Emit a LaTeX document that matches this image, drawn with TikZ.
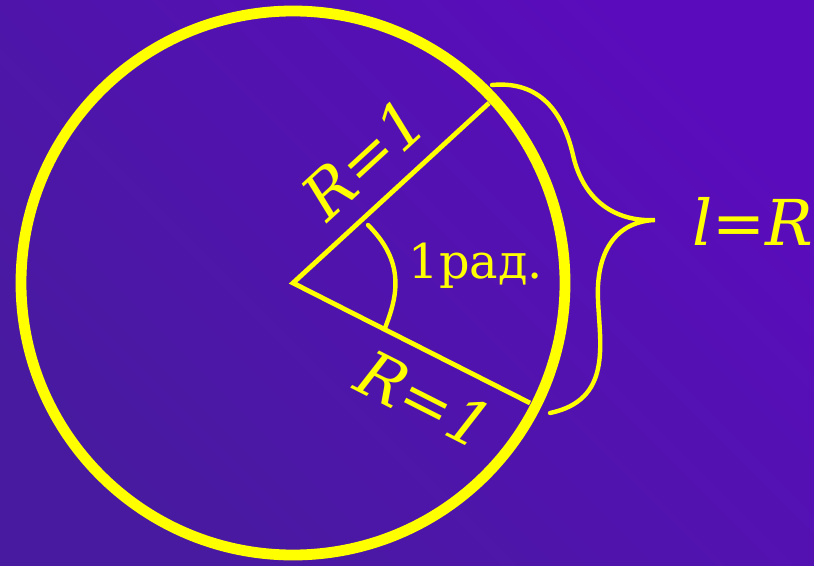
\documentclass[tikz,border=0pt]{standalone}
\usepackage{fontspec}
\setmainfont{DejaVu Serif}
\usepackage{xcolor}
\definecolor{bglow}{RGB}{72,26,160}
\definecolor{bghigh}{RGB}{90,12,188}
\definecolor{chalk}{RGB}{255,255,0}
\usepackage{tikz}
\usetikzlibrary{calc}

\begin{document}
\begin{tikzpicture}[
        x=0.025cm, y=-0.025cm,
        rim/.style={draw=chalk, line width=0.27cm},
        radial/.style={draw=chalk, line width=0.12cm},
        curl/.style={draw=chalk, line width=0.11cm, line cap=round},
        tag/.style={text=chalk, inner sep=0pt, font=\fontsize{45}{52}\selectfont\itshape},
        angletag/.style={text=chalk, inner sep=0pt, font=\fontsize{34}{40}\selectfont}
    ]
        \useasboundingbox (0,0) rectangle (814,565);
        \shade[bottom color=bglow, top color=bghigh, shading angle=-45] (0,0) rectangle (814,565);

        \coordinate (centre) at (293,283);
        \coordinate (upper) at (489,103);
        \coordinate (lower) at (530,403);

        \draw[rim] (centre) circle (272);

        \draw[radial] (upper) -- node[tag, sloped, above=0.45cm, pos=0.49] {R=1} (centre)
            -- node[tag, sloped, below=0.45cm, pos=0.64] {R=1} (lower);

        \draw[curl] (368,225) .. controls (405,262) and (398,295) .. (385,328);
        \node[angletag] (rad) at (476,266) {1рад.};

        \coordinate (bracetop) at (492,85);
        \coordinate (bracetip) at (655,220);
        \coordinate (bracebottom) at (550,413);
        \draw[curl] (bracetop) .. controls (545,80) and (565,120) .. (573,155)
            .. controls (583,200) and (615,222) .. (bracetip)
            .. controls (610,222) and (596,260) .. (598,300)
            .. controls (600,345) and (612,400) .. (bracebottom);
        \node[tag, font=\fontsize{45}{52}\selectfont\itshape] (arc) at (753,221) {l=R};
    \end{tikzpicture}
\end{document}
